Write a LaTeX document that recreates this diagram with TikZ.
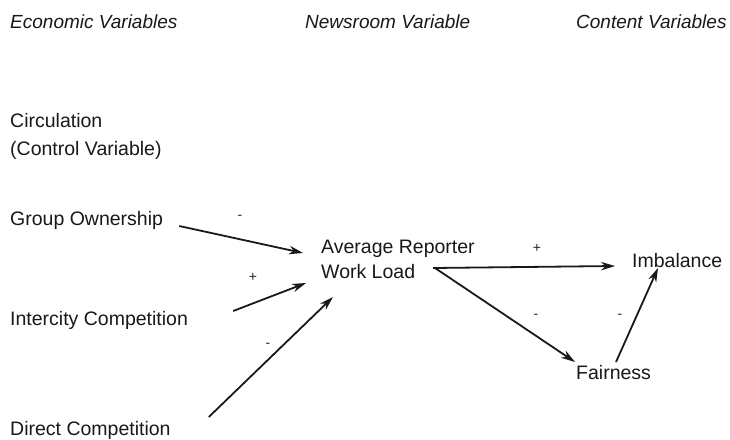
\documentclass[tikz,border=0pt]{standalone}
\usepackage{fontspec}
\setmainfont{Liberation Sans}
\usetikzlibrary{arrows.meta,calc}
\begin{document}
\begin{tikzpicture}[x=1pt,y=-1pt,
  lbl/.style={font=\fontsize{19.5}{25}\selectfont, inner sep=0pt, anchor=west, align=left, text=black!90},
  hdr/.style={lbl, font=\fontsize{19}{25}\selectfont\itshape},
  sgn/.style={font=\fontsize{14}{14}\selectfont, inner sep=0pt, text=black!85},
  arr/.style={-{Stealth[length=14pt,width=8.5pt]}, line width=1.8pt, draw=black!90}]
\fill[white] (0,0) rectangle (730,439);
\useasboundingbox (0,0) rectangle (730,439);
% headers
\node[hdr] (h1) at (10,22) {Economic Variables};
\node[hdr] (h2) at (305,22) {Newsroom Variable};
\node[hdr] (h3) at (576,22) {Content Variables};
% economic variables
\node[lbl] (circ) at (10,121) {Circulation};
\node[lbl] (ctrl) at (10,150) {(Control Variable)};
\node[lbl] (go) at (10,220) {Group Ownership};
\node[lbl] (ic) at (10,320) {Intercity Competition};
\node[lbl] (dc) at (10,430) {Direct Competition};
% newsroom
\node[lbl] (awl) at (321,259) {Average Reporter\\Work Load};
% content
\node[lbl] (imb) at (632,261) {Imbalance};
\node[lbl] (fair) at (576,373) {Fairness};
% arrows
\draw[arr] ($(go.east)+(16,6)$) -- ($(awl.west)+(-18,-6)$);
\draw[arr] ($(ic.east)+(45,-9)$) -- ($(awl.west)+(-15,24)$);
\draw[arr] ($(dc.east)+(38,-13)$) -- ($(awl.west)+(12,38)$);
\draw[arr] ($(awl.west)+(112,9)$) -- ($(imb.west)+(-17,5)$);
\draw[arr] ($(awl.west)+(114,9)$) -- ($(fair.west)+(-1,-11)$);
\draw[arr] ($(fair.west)+(40,-11)$) -- ($(imb.west)+(26,7)$);
% signs
\node[sgn] (s1) at (240,217) {-};
\node[sgn] (s2) at (253,277) {+};
\node[sgn] (s3) at (268,345) {-};
\node[sgn] (s4) at (537,248) {+};
\node[sgn] (s5) at (536,316) {-};
\node[sgn] (s6) at (620,316) {-};
\end{tikzpicture}
\end{document}
